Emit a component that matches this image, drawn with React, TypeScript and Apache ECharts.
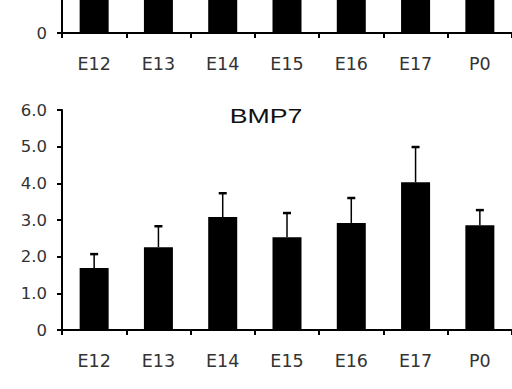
import React, { useEffect, useRef } from "react";
import * as echarts from "echarts";

const categories = ["E12", "E13", "E14", "E15", "E16", "E17", "P0"];
const bmp7Means = [1.69, 2.26, 3.08, 2.53, 2.92, 4.03, 2.86];
const bmp7Upper = [2.07, 2.83, 3.73, 3.19, 3.6, 4.99, 3.27];
// upper panel (cut off in the picture): bars all run past the top edge
const topPanelMeans = [25, 25, 25, 25, 25, 25, 25];

const FONT = "'DejaVu Sans', sans-serif";
const TITLE_FONT = "'Liberation Sans', Arial, sans-serif";

export default function App() {
  const ref = useRef<HTMLDivElement>(null);
  useEffect(() => {
    if (!ref.current) return;
    const chart = echarts.init(ref.current, null, { renderer: "svg" });
    const axisLine = { show: true, lineStyle: { color: "#000", width: 2 } };
    const xAxisCommon = {
      type: "category" as const,
      data: categories,
      boundaryGap: true,
      axisLine,
      axisTick: { show: true, length: 5, inside: false, lineStyle: { color: "#000", width: 2 } },
      axisLabel: { color: "#333", fontSize: 17.5, fontFamily: FONT, margin: 22 },
    };
    const errRender = (params: any, api: any) => {
      const x = api.value(0);
      const m = api.value(1);
      const u = api.value(2);
      const p1 = api.coord([x, m]);
      const p2 = api.coord([x, u]);
      return {
        type: "group",
        children: [
          { type: "line", shape: { x1: p1[0], y1: p1[1], x2: p2[0], y2: p2[1] }, style: { stroke: "#000", lineWidth: 1.5 } },
          { type: "line", shape: { x1: p2[0] - 4, y1: p2[1], x2: p2[0] + 4, y2: p2[1] }, style: { stroke: "#000", lineWidth: 2.5 } },
        ],
      };
    };
    chart.setOption({
      animation: false,
      backgroundColor: "#fff",
      graphic: [
        {
          type: "text",
          x: 266,
          y: 116,
          scaleX: 1.27,
          style: {
            text: "BMP7",
            fontFamily: TITLE_FONT,
            fontSize: 21,
            fill: "#111",
            align: "center",
            verticalAlign: "middle",
          },
        },
      ],
      grid: [
        { left: 62, top: 0, width: 455, height: 33 },
        { left: 62, top: 110, width: 455, height: 220 },
      ],
      xAxis: [
        { ...xAxisCommon, gridIndex: 0 },
        { ...xAxisCommon, gridIndex: 1 },
      ],
      yAxis: [
        {
          type: "value",
          gridIndex: 0,
          min: 0,
          max: 25,
          interval: 25,
          splitLine: { show: false },
          axisLine,
          axisTick: { show: true, length: 5, lineStyle: { color: "#000", width: 2 } },
          axisLabel: { color: "#333", fontSize: 16.5, fontFamily: FONT, margin: 15, showMaxLabel: false },
        },
        {
          type: "value",
          gridIndex: 1,
          min: 0,
          max: 6,
          interval: 1,
          splitLine: { show: false },
          axisLine,
          axisTick: { show: true, length: 5, lineStyle: { color: "#000", width: 2 } },
          axisLabel: {
            color: "#333",
            fontSize: 16.5,
            fontFamily: FONT,
            margin: 15,
            formatter: (v: number) => (v === 0 ? "0" : v.toFixed(1)),
          },
        },
      ],
      series: [
        {
          type: "bar",
          xAxisIndex: 0,
          yAxisIndex: 0,
          data: topPanelMeans,
          barWidth: 29,
          itemStyle: { color: "#000" },
        },
        {
          type: "bar",
          xAxisIndex: 1,
          yAxisIndex: 1,
          data: bmp7Means,
          barWidth: 29,
          itemStyle: { color: "#000" },
          z: 3,
        },
        {
          type: "custom",
          xAxisIndex: 1,
          yAxisIndex: 1,
          renderItem: errRender,
          encode: { x: 0, y: [1, 2] },
          data: categories.map((_, i) => [i, bmp7Means[i], bmp7Upper[i]]),
          z: 2,
        },
      ],
    });
    return () => chart.dispose();
  }, []);
  return (
    <div
      ref={ref}
      style={{ position: "fixed", left: 0, top: 0, width: 512, height: 389, background: "#fff" }}
    />
  );
}
